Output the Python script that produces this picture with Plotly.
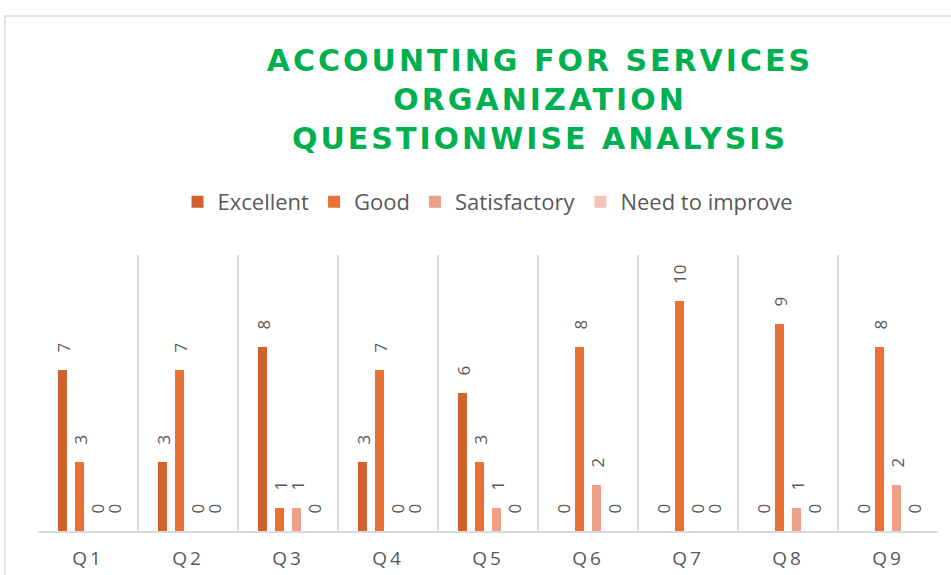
import plotly.graph_objects as go

categories = ["Q1", "Q2", "Q3", "Q4", "Q5", "Q6", "Q7", "Q8", "Q9"]
series_names = ["Excellent", "Good", "Satisfactory", "Need to improve"]
excellent = [7, 3, 8, 3, 6, 0, 0, 0, 0]
good = [3, 7, 1, 7, 3, 8, 10, 9, 8]
satisfactory = [0, 0, 1, 0, 1, 2, 0, 1, 2]
need_to_improve = [0, 0, 0, 0, 0, 0, 0, 0, 0]
title_lines = ["ACCOUNTING FOR SERVICES", "ORGANIZATION", "QUESTIONWISE ANALYSIS"]

series_values = [excellent, good, satisfactory, need_to_improve]
colors = ["#D0622D", "#E97132", "#EDA18B", "#F3C5B8"]

W, H = 951, 575
ml, mr, mt, mb = 38, 13, 255, 44
plot_w = W - ml - mr
plot_h = H - mt - mb
bargap = 0.32
slot_px = plot_w / len(categories) * (1 - bargap) / len(series_names)

label_font = dict(family="Open Sans, Liberation Sans, sans-serif", size=17, color="#595959")

fig = go.Figure()
for name, vals, col in zip(series_names, series_values, colors):
    fig.add_trace(go.Bar(
        x=categories, y=vals, name=name,
        marker=dict(color=col, line=dict(width=0)),
        hoverinfo="x+y+name",
    ))

annotations = []
n = len(series_names)
for i, vals in enumerate(series_values):
    offset = (i - (n - 1) / 2) * slot_px
    for cat, v in zip(categories, vals):
        annotations.append(dict(
            x=cat, y=v, xref="x", yref="y", text=str(v),
            showarrow=False, textangle=-90,
            xanchor="center", yanchor="bottom",
            xshift=offset, yshift=15,
            font=label_font,
        ))

fig.update_layout(
    width=W, height=H,
    margin=dict(l=ml, r=mr, t=mt, b=mb, autoexpand=False),
    paper_bgcolor="white", plot_bgcolor="white",
    barmode="group", bargap=bargap, bargroupgap=0.47,
    title=dict(
        text="<br>".join(title_lines),
        x=(540 - ml) / plot_w, xref="paper", xanchor="center",
        y=1 - 71 / H, yref="container", yanchor="top",
        font=dict(family="DejaVu Sans, sans-serif", size=30, color="#00B050", weight="bold"),
    ),
    legend=dict(
        orientation="h", x=0.5, xanchor="center",
        y=1 - 202 / H, yref="container", yanchor="middle",
        font=dict(family="Open Sans, Liberation Sans, sans-serif", size=22, color="#595959"),
        itemclick=False, itemdoubleclick=False,
    ),
    xaxis=dict(
        type="category", range=[-0.5, len(categories) - 0.5],
        tickson="boundaries", showgrid=True, gridcolor="#D9D9D9", gridwidth=1.5,
        showline=True, linecolor="#D9D9D9", linewidth=1.5,
        ticks="", ticklabelstandoff=9, automargin=False,
        tickfont=dict(family="Open Sans, Liberation Sans, sans-serif", size=19, color="#595959"),
        fixedrange=True,
    ),
    yaxis=dict(
        range=[0, 12], showgrid=False, zeroline=False, showticklabels=False,
        showline=False, ticks="", fixedrange=True, automargin=False,
    ),
    annotations=annotations,
    shapes=[dict(
        type="rect", xref="paper", yref="paper",
        x0=(5 - ml) / plot_w, x1=(W + 10 - ml) / plot_w,
        y0=-(mb + 10) / plot_h, y1=(H - mb - 16) / plot_h,
        line=dict(color="#D9D9D9", width=1.5), fillcolor="rgba(0,0,0,0)", layer="below",
    )],
    showlegend=True,
)

post = """
document.body.style.margin = '0';
document.body.style.overflow = 'hidden';
var gd = document.getElementById('{plot_id}');
gd.querySelectorAll('.gtitle').forEach(function(e){ e.style.letterSpacing = '3px'; });
gd.querySelectorAll('.xtick text').forEach(function(e){ e.style.letterSpacing = '3px'; });
"""
fig.write_html("out.html", post_script=post, config={"displayModeBar": False})
